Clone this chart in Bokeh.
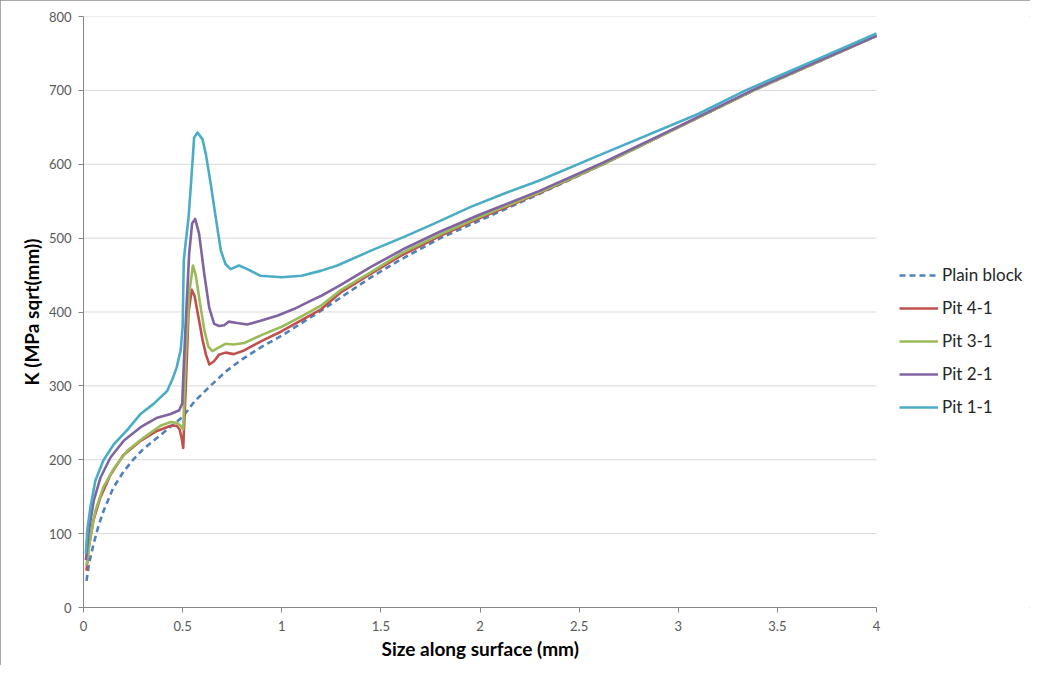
from bokeh.plotting import figure
from bokeh.models import Range1d, FixedTicker, Legend, LegendItem, Title
from bokeh.embed import file_html
from bokeh.resources import INLINE

# ---------------- data ----------------
x_plain = [0.015, 0.03, 0.05, 0.075, 0.1, 0.15, 0.2, 0.25, 0.3, 0.35, 0.4, 0.45, 0.5,
           0.56, 0.64, 0.72, 0.8, 0.9, 1.0, 1.1, 1.2, 1.3, 1.45, 1.6, 1.8, 2.0, 2.3,
           2.62, 3.0, 3.38, 3.7, 4.0]
k_plain = [36, 62, 85, 110, 130, 162, 183, 200, 214, 225, 236, 247, 258,
           279, 300, 320, 336, 353, 368, 385, 402, 420, 447, 471, 500, 524, 560,
           600, 650, 700, 738, 774]

x_pit4 = [0.015, 0.027, 0.05, 0.085, 0.135, 0.2, 0.29, 0.37, 0.44, 0.47, 0.485, 0.496,
          0.503, 0.516, 0.53, 0.546, 0.56, 0.58, 0.6, 0.618, 0.635, 0.657, 0.683, 0.716,
          0.758, 0.81, 0.9, 1.0, 1.1, 1.2, 1.3, 1.45, 1.6, 1.8, 2.0, 2.3, 2.62, 3.0,
          3.38, 3.7, 4.0]
k_pit4 = [50, 82, 118, 149, 179, 206, 226, 239, 246, 246, 241, 228,
          216, 300, 400, 430, 422, 393, 363, 342, 329, 333, 342, 345,
          343, 348, 361, 374, 389, 404, 427, 452, 476, 503, 527, 561, 600, 650,
          700, 738, 774]

x_pit3 = [0.015, 0.035, 0.06, 0.1, 0.153, 0.22, 0.304, 0.388, 0.44, 0.47, 0.49, 0.503,
          0.516, 0.533, 0.552, 0.566, 0.59, 0.61, 0.63, 0.65, 0.683, 0.716, 0.758, 0.81,
          0.9, 1.0, 1.1, 1.2, 1.3, 1.45, 1.6, 1.8, 2.0, 2.3, 2.62, 3.0, 3.38, 3.7, 4.0]
k_pit3 = [57, 95, 131, 163, 188, 212, 230, 246, 251, 250, 246, 241,
          343, 425, 463, 450, 408, 375, 353, 347, 352, 357, 356, 358,
          369, 380, 394, 409, 430, 454, 479, 505, 529, 562, 600, 650, 700, 738, 774]

x_pit2 = [0.012, 0.027, 0.052, 0.086, 0.136, 0.204, 0.288, 0.372, 0.44, 0.483, 0.498,
          0.506, 0.516, 0.533, 0.548, 0.563, 0.583, 0.609, 0.634, 0.659, 0.684, 0.71,
          0.733, 0.775, 0.826, 0.893, 0.977, 1.061, 1.145, 1.2, 1.3, 1.45, 1.62, 1.8,
          2.0, 2.3, 2.62, 3.0, 3.38, 3.7, 4.0]
k_pit2 = [64, 104, 145, 176, 203, 226, 244, 257, 262, 267, 276,
          330, 388, 479, 520, 526, 506, 452, 406, 384, 381, 382,
          387, 385, 383, 388, 395, 404, 415, 422, 437, 461, 486, 509,
          532, 564, 602, 651, 701, 739, 774]

x_pit1 = [0.012, 0.019, 0.035, 0.06, 0.1, 0.153, 0.22, 0.288, 0.355, 0.422, 0.45, 0.47,
          0.49, 0.5, 0.506, 0.513, 0.53, 0.541, 0.558, 0.575, 0.6, 0.617, 0.642, 0.667,
          0.693, 0.716, 0.742, 0.784, 0.826, 0.893, 1.0, 1.1, 1.2, 1.28, 1.45, 1.62,
          1.78, 1.95, 2.12, 2.3, 2.6, 3.1, 3.34, 3.7, 4.0]
k_pit1 = [73, 104, 136, 172, 199, 221, 240, 262, 276, 293, 310, 325,
          348, 380, 470, 488, 528, 569, 636, 643, 634, 614, 573, 528,
          483, 465, 458, 463, 458, 449, 447, 449, 456, 463, 483, 502,
          521, 542, 560, 578, 612, 668, 700, 742, 777]

series_names = ["Plain block", "Pit 4-1", "Pit 3-1", "Pit 2-1", "Pit 1-1"]
series_colors = ["#4F81BD", "#C0504D", "#9BBB59", "#8064A2", "#4BACC6"]
series_dash = ["6 4", "solid", "solid", "solid", "solid"]
x_ticks = [0, 0.5, 1, 1.5, 2, 2.5, 3, 3.5, 4]
x_tick_labels = ["0", "0.5", "1", "1.5", "2", "2.5", "3", "3.5", "4"]
y_ticks = [0, 100, 200, 300, 400, 500, 600, 700, 800]

# ---------------- layout ----------------
FONT = "Lato"
FIG_W, FIG_H = 1030, 665
BORDER_L, BORDER_T, BORDER_B = 83, 16, 58
PLOT_W = 793                      # pixel width of the 0..4 data area
frame_w = FIG_W - BORDER_L        # frame runs on to the right edge (room for the legend)
x_min, x_max = x_ticks[0], x_ticks[-1]
x_view_end = x_min + (x_max - x_min) * frame_w / PLOT_W

p = figure(width=FIG_W, height=FIG_H, output_backend="svg", toolbar_location=None,
           x_range=Range1d(x_min, x_view_end), y_range=Range1d(y_ticks[0], y_ticks[-1]),
           min_border_left=BORDER_L, min_border_right=0, min_border_top=BORDER_T,
           min_border_bottom=BORDER_B)
p.outline_line_color = None
p.background_fill_color = "white"
p.border_fill_color = "white"
p.styles = {"outline": "1px solid #8c8c8c", "outline-offset": "-1px"}

p.xgrid.grid_line_color = None
p.ygrid.grid_line_color = None
# horizontal gridlines only across the 0..4 data area
p.segment(x0=[x_min] * (len(y_ticks) - 1), x1=[x_max] * (len(y_ticks) - 1),
          y0=y_ticks[1:], y1=y_ticks[1:], line_color="#d9d9d9", line_width=1)

for ax in (p.xaxis[0], p.yaxis[0]):
    ax.axis_line_color = "#868686"
    ax.major_tick_line_color = "#868686"
    ax.major_tick_in = 0
    ax.major_tick_out = 5
    ax.minor_tick_line_color = None
    ax.major_label_text_font = FONT
    ax.major_label_text_font_size = "13px"
    ax.major_label_text_color = "#595959"
    ax.axis_label_text_font = FONT
    ax.axis_label_text_font_size = "19px"
    ax.axis_label_text_font_style = "bold"
    ax.axis_label_text_color = "#000000"

p.xaxis.bounds = (x_min, x_max)
p.xaxis.ticker = FixedTicker(ticks=x_ticks)
p.xaxis.major_label_overrides = {t: l for t, l in zip(x_ticks, x_tick_labels)}
p.yaxis.ticker = FixedTicker(ticks=y_ticks)
p.xaxis.major_label_standoff = 8
p.yaxis.major_label_standoff = 7
p.yaxis.axis_label = "K (MPa sqrt(mm))"
p.yaxis.axis_label_standoff = 3

# x-axis title, centred under the 0..4 data area
x_title = Title(text="Size along surface (mm)", align="left", offset=298,
                vertical_align="top", standoff=6,
                text_font=FONT, text_font_size="19px", text_font_style="bold",
                text_color="#000000")
p.add_layout(x_title, "below")

LW = 2.6
renderers = []
for x, k, c, d in zip([x_plain, x_pit4, x_pit3, x_pit2, x_pit1],
                      [k_plain, k_pit4, k_pit3, k_pit2, k_pit1],
                      series_colors, series_dash):
    renderers.append(p.line(x, k, line_color=c, line_width=LW, line_dash=d,
                            line_join="round"))

legend = Legend(items=[LegendItem(label=n, renderers=[r])
                       for n, r in zip(series_names, renderers)],
                location=(PLOT_W + 23, 190), orientation="vertical",
                border_line_color=None, background_fill_alpha=0,
                glyph_width=39, glyph_height=20, label_height=20, spacing=12,
                padding=0, margin=0, label_standoff=4,
                label_text_font=FONT, label_text_font_size="17px",
                label_text_color="#262626")
p.add_layout(legend)

open("out.html", "w").write(file_html(p, INLINE))
